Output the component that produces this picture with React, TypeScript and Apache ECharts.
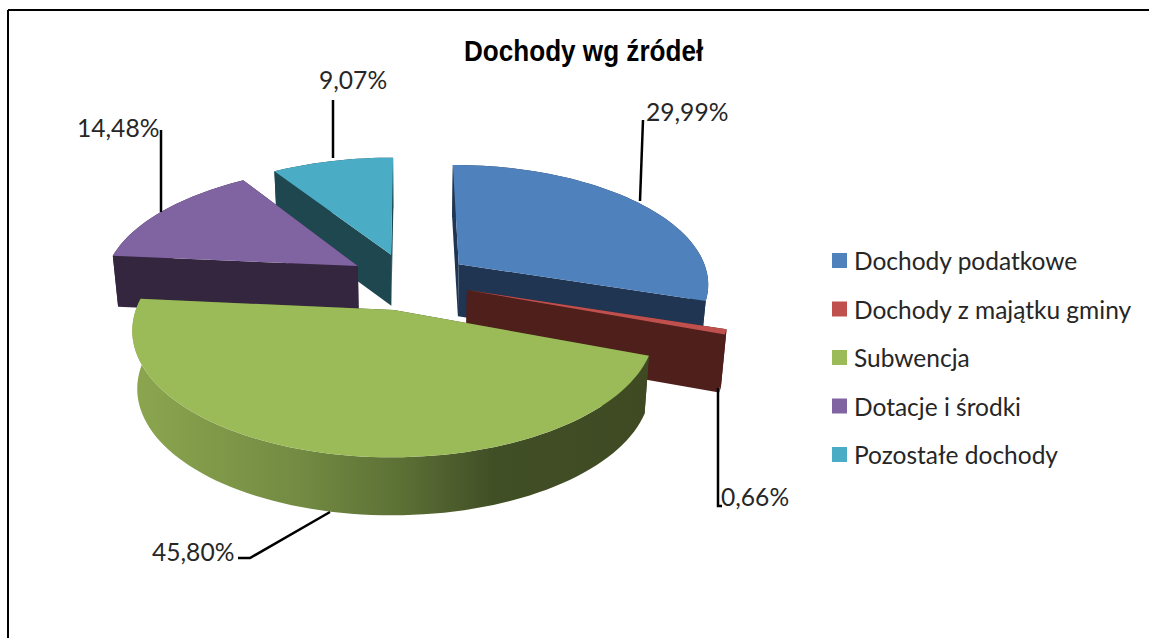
import React, { useEffect, useRef } from "react";
import * as echarts from "echarts";

const categories = ["Dochody podatkowe", "Dochody z majątku gminy", "Subwencja", "Dotacje i środki", "Pozostałe dochody"];
const shares = [29.99, 0.66, 45.8, 14.48, 9.07];
const title = "Dochody wg źródeł";

const topColors = ["#4f81bd", "#c0504d", "#9bbb59", "#8064a2", "#4bacc6"];
const wallColors = ["#1f3552", "#4f1f1c", "#404b23", "#35263f", "#1e4750"];
const stacking = [2, 3, 4, 1, 0];
const depths = [52, 58, 58, 51, 51];
const nudgeX = [3, 1, -3, -3, -3];
const nudgeY = [0, 1, 3, 0, 0];
const squeezeX = [0.985, 1, 0.98, 1, 1];
const squeezeY = [1, 1, 0.98, 1, 1];

const CAM = { cx: 410, cy: 280, rx: 254.5, ry: 118.6, k: 0.15, explode: 0.23, shrink: 0.982 };

const labelLayout = [
  { x: 646, y: 111, line: [[643, 120], [640, 201]] },
  { x: 721, y: 496, line: [[718, 388], [718, 506], [722, 506]] },
  { x: 152, y: 551, line: [[330, 512], [250, 558], [238, 558]] },
  { x: 77, y: 127, line: [[161, 130], [161, 212]] },
  { x: 319, y: 79, line: [[333, 100], [333, 158]] },
];

const total = shares.reduce((a, b) => a + b, 0);
const rad = (v: number) => (v / total) * Math.PI * 2;

function project(index: number, X: number, Y: number, depth = 0) {
  const w = 1 + CAM.k * Y;
  const rawX = (CAM.rx * X) / w;
  const rawY = (-CAM.ry * Y) / w;
  const px = rawX * squeezeX[index];
  const py = rawY * squeezeY[index];
  const shrink = depth ? CAM.shrink : 1;
  return [CAM.cx + px * shrink + nudgeX[index], CAM.cy + py + nudgeY[index] + depth];
}

function sliceGeometry(index: number, value: number) {
  const before = shares.slice(0, index).reduce((a, b) => a + b, 0);
  const a0 = rad(before);
  const a1 = a0 + rad(value);
  const mid = (a0 + a1) / 2;
  const ox = CAM.explode * Math.sin(mid);
  const oy = CAM.explode * Math.cos(mid);
  const n = Math.max(4, Math.ceil(((a1 - a0) * 180) / Math.PI / 2));
  const angles: number[] = [];
  for (let i = 0; i <= n; i++) angles.push(a0 + ((a1 - a0) * i) / n);
  const at = (a: number, d = 0) => project(index, ox + Math.sin(a), oy + Math.cos(a), d);
  return { ox, oy, angles, at };
}

function sliceRenderer(index: number) {
  return (_params: any, api: any) => {
    const value = api.value(0);
    const g = sliceGeometry(index, value);
    const d = depths[index];
    const apexTop = project(index, g.ox, g.oy);
    const apexBottom = project(index, g.ox, g.oy, d);
    const arcTop = g.angles.map((a) => g.at(a));
    const arcBottom = g.angles.map((a) => g.at(a, d));
    const wall = wallColors[index];
    const outerFill =
      index === 2
        ? new echarts.graphic.LinearGradient(0, 0, 1, 0, [
            { offset: 0, color: "#8ca64f" },
            { offset: 0.33, color: "#728a42" },
            { offset: 0.52, color: "#5c7035" },
            { offset: 0.7, color: "#414f26" },
            { offset: 1, color: "#3f4a23" },
          ])
        : wall;
    return {
      type: "group",
      children: [
        { type: "polygon", shape: { points: [apexTop, arcTop[0], arcBottom[0], apexBottom] }, style: { fill: wall } },
        { type: "polygon", shape: { points: [apexTop, arcTop[arcTop.length - 1], arcBottom[arcBottom.length - 1], apexBottom] }, style: { fill: wall } },
        { type: "polygon", shape: { points: [...arcTop, ...arcBottom.slice().reverse()] }, style: { fill: outerFill } },
        { type: "polygon", shape: { points: [apexTop, ...arcTop] }, style: { fill: topColors[index] } },
      ],
    };
  };
}

function labelRenderer(index: number) {
  return (_params: any, api: any) => {
    const value = api.value(0);
    const l = labelLayout[index];
    return {
      type: "group",
      children: [
        { type: "polyline", shape: { points: l.line }, style: { stroke: "#000", lineWidth: 2.5, fill: null } },
        {
          type: "text",
          style: {
            x: l.x,
            y: l.y,
            text: value.toFixed(2).replace(".", ",") + "%",
            fill: "#262626",
            font: "24.6px Lato",
            textAlign: "left",
            textVerticalAlign: "middle",
          },
        },
      ],
    };
  };
}

export default function App() {
  const ref = useRef<HTMLDivElement>(null);
  useEffect(() => {
    const chart = echarts.init(ref.current!, undefined, { renderer: "svg" });
    chart.setOption({
      animation: false,
      backgroundColor: "#fff",
      legend: {
        orient: "vertical",
        left: 832,
        top: 248,
        padding: 0,
        itemWidth: 15,
        itemHeight: 15,
        itemGap: 23.5,
        icon: "rect",
        data: categories,
        selectedMode: false,
        textStyle: { fontFamily: "Lato", fontSize: 24.5, color: "#262626", padding: [0, 0, 0, 2] },
      },
      graphic: [
        { type: "line", shape: { x1: 8, y1: 10, x2: 1149, y2: 10 }, style: { stroke: "#000", lineWidth: 2 } },
        { type: "line", shape: { x1: 8, y1: 10, x2: 8, y2: 638 }, style: { stroke: "#000", lineWidth: 2 } },
        {
          type: "text",
          x: 464,
          y: 51,
          scaleX: 0.9,
          style: {
            text: title,
            font: 'bold 29px "Liberation Sans"',
            fill: "#000",
            textAlign: "left",
            textVerticalAlign: "middle",
          },
        },
      ],
      series: [
        ...categories.map((name, i) => ({
          type: "custom",
          name,
          coordinateSystem: "none",
          silent: true,
          z: 2 + stacking[i],
          itemStyle: { color: topColors[i] },
          data: [shares[i]],
          renderItem: sliceRenderer(i),
        })),
        ...categories.map((name, i) => ({
          type: "custom",
          name: name + " etykieta",
          coordinateSystem: "none",
          silent: true,
          z: 20,
          data: [shares[i]],
          renderItem: labelRenderer(i),
        })),
      ],
    });
    return () => chart.dispose();
  }, []);
  return <div ref={ref} style={{ position: "fixed", left: 0, top: 0, width: 1149, height: 638 }} />;
}
